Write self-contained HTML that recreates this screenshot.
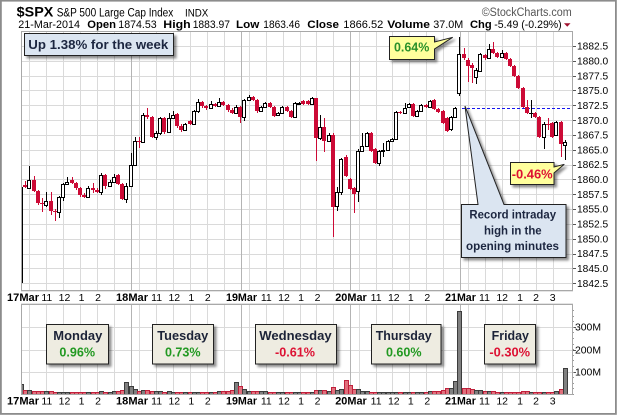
<!DOCTYPE html>
<html><head><meta charset="utf-8">
<style>
html,body{margin:0;padding:0;background:#fff;}
svg{display:block;}
text{font-family:"Liberation Sans",Arial,sans-serif;}
</style></head>
<body>
<svg id="c" width="620" height="415" viewBox="0 0 620 415" xmlns="http://www.w3.org/2000/svg">
<defs>
 <clipPath id="pc"><rect x="21" y="31" width="551.5" height="259.5"/></clipPath>
 <clipPath id="vc"><rect x="21" y="304" width="551.5" height="90.5"/></clipPath>
 <filter id="sh" x="-20%" y="-20%" width="150%" height="170%"><feDropShadow dx="2.5" dy="2.5" stdDeviation="1.4" flood-color="#000" flood-opacity="0.45"/></filter>
</defs>
<rect width="620" height="415" fill="#fff"/>
<rect x="0.9" y="0.7" width="615" height="413.2" fill="none" stroke="#8c8c8c" stroke-width="1.8"/>

<!-- header -->
<text x="16.7" y="16.5" font-size="14" font-weight="bold" textLength="36.6" lengthAdjust="spacingAndGlyphs">$SPX</text>
<text x="56.7" y="16.5" font-size="11.5" textLength="116.6" lengthAdjust="spacingAndGlyphs">S&amp;P 500 Large Cap Index</text>
<text x="185" y="16.5" font-size="11" textLength="23.3" lengthAdjust="spacingAndGlyphs">INDX</text>
<text x="481.7" y="16" font-size="11.5" fill="#555" textLength="90" lengthAdjust="spacingAndGlyphs">©StockCharts.com</text>

<g font-size="11">
<text x="18.3" y="28" textLength="61.7" lengthAdjust="spacingAndGlyphs">21-Mar-2014</text>
<text x="87.3" y="28" font-weight="bold" textLength="28.7" lengthAdjust="spacingAndGlyphs">Open</text>
<text x="118.3" y="28" textLength="38.4" lengthAdjust="spacingAndGlyphs">1874.53</text>
<text x="163.3" y="28" font-weight="bold" textLength="27.4" lengthAdjust="spacingAndGlyphs">High</text>
<text x="192.7" y="28" textLength="37.3" lengthAdjust="spacingAndGlyphs">1883.97</text>
<text x="236" y="28" font-weight="bold" textLength="23.3" lengthAdjust="spacingAndGlyphs">Low</text>
<text x="263.3" y="28" textLength="36.7" lengthAdjust="spacingAndGlyphs">1863.46</text>
<text x="307.3" y="28" font-weight="bold" textLength="31.7" lengthAdjust="spacingAndGlyphs">Close</text>
<text x="343.3" y="28" textLength="40" lengthAdjust="spacingAndGlyphs">1866.52</text>
<text x="387.3" y="28" font-weight="bold" textLength="42.7" lengthAdjust="spacingAndGlyphs">Volume</text>
<text x="433.3" y="28" textLength="30" lengthAdjust="spacingAndGlyphs">37.0M</text>
<text x="470" y="28" font-weight="bold" textLength="21.7" lengthAdjust="spacingAndGlyphs">Chg</text>
<text x="494.3" y="28" textLength="67.4" lengthAdjust="spacingAndGlyphs">-5.49 (-0.29%)</text>
</g>
<polygon points="564,23.3 570.5,23.3 567.25,26.8" fill="#a0102e"/>

<!-- panels background/grid -->
<rect x="21.5" y="31.5" width="551" height="259" fill="#fff"/>
<rect x="21.5" y="304.5" width="551" height="90" fill="#fff"/>
<g id="grid"></g>

<!-- blue dashed line -->
<line x1="462" y1="108.5" x2="572" y2="108.5" stroke="#1515ee" stroke-width="1" stroke-dasharray="3,2"/>

<g id="candles" clip-path="url(#pc)"></g>
<g id="vbars" clip-path="url(#vc)"></g>

<!-- panel borders -->
<rect x="21.5" y="31.5" width="551" height="259" fill="none" stroke="#a8a8a8" stroke-width="1"/>
<rect x="21.5" y="304.5" width="551" height="90" fill="none" stroke="#a8a8a8" stroke-width="1"/>
<line x1="21.5" y1="290.5" x2="572.5" y2="290.5" stroke="#c8c8c8" stroke-width="1" stroke-dasharray="1,1" transform="translate(0,1)"/>
<line x1="21.5" y1="304.5" x2="572.5" y2="304.5" stroke="#c8c8c8" stroke-width="1" stroke-dasharray="1,1" transform="translate(0,-1)"/>

<!-- price axis labels -->
<g font-size="10.2" fill="#000">
<text x="577" y="49.6">1882.5</text>
<text x="577" y="64.4">1880.0</text>
<text x="577" y="79.3">1877.5</text>
<text x="577" y="94.1">1875.0</text>
<text x="577" y="108.9">1872.5</text>
<text x="577" y="123.8">1870.0</text>
<text x="577" y="138.6">1867.5</text>
<text x="577" y="153.4">1865.0</text>
<text x="577" y="168.2">1862.5</text>
<text x="577" y="183.1">1860.0</text>
<text x="577" y="197.9">1857.5</text>
<text x="577" y="212.7">1855.0</text>
<text x="577" y="227.6">1852.5</text>
<text x="577" y="242.4">1850.0</text>
<text x="577" y="257.2">1847.5</text>
<text x="577" y="272.1">1845.0</text>
<text x="577" y="286.9">1842.5</text>
</g>
<g font-size="10.2">
<text x="575" y="330.4" textLength="26" lengthAdjust="spacingAndGlyphs">300M</text>
<text x="575" y="353.4" textLength="26" lengthAdjust="spacingAndGlyphs">200M</text>
<text x="575" y="375.4" textLength="26" lengthAdjust="spacingAndGlyphs">100M</text>
</g>

<!-- x labels top row -->
<g font-size="11" text-anchor="middle">
<g font-weight="bold">
<text x="23" y="300.8" textLength="32" lengthAdjust="spacingAndGlyphs">17Mar</text>
<text x="132" y="300.8" textLength="32" lengthAdjust="spacingAndGlyphs">18Mar</text>
<text x="241.5" y="300.8" textLength="31" lengthAdjust="spacingAndGlyphs">19Mar</text>
<text x="351" y="300.8" textLength="31.5" lengthAdjust="spacingAndGlyphs">20Mar</text>
<text x="460.5" y="300.8" textLength="30.7" lengthAdjust="spacingAndGlyphs">21Mar</text>
<text x="23" y="404.6" textLength="32" lengthAdjust="spacingAndGlyphs">17Mar</text>
<text x="132" y="404.6" textLength="32" lengthAdjust="spacingAndGlyphs">18Mar</text>
<text x="241.5" y="404.6" textLength="31" lengthAdjust="spacingAndGlyphs">19Mar</text>
<text x="351" y="404.6" textLength="31.5" lengthAdjust="spacingAndGlyphs">20Mar</text>
<text x="460.5" y="404.6" textLength="30.7" lengthAdjust="spacingAndGlyphs">21Mar</text>
</g>
<g font-size="10.5">
<text x="46.8" y="300.8">11</text><text x="64.5" y="300.8">12</text><text x="81.5" y="300.8">1</text><text x="98" y="300.8">2</text>
<text x="156.6" y="300.8">11</text><text x="174.3" y="300.8">12</text><text x="191.3" y="300.8">1</text><text x="207.8" y="300.8">2</text>
<text x="266.3" y="300.8">11</text><text x="284" y="300.8">12</text><text x="301" y="300.8">1</text><text x="317.5" y="300.8">2</text>
<text x="376.1" y="300.8">11</text><text x="393.8" y="300.8">12</text><text x="410.8" y="300.8">1</text><text x="427.3" y="300.8">2</text>
<text x="484.5" y="300.8">11</text><text x="502.2" y="300.8">12</text><text x="520" y="300.8">1</text><text x="536" y="300.8">2</text><text x="552.7" y="300.8">3</text>
<text x="46.8" y="404.6">11</text><text x="64.5" y="404.6">12</text><text x="81.5" y="404.6">1</text><text x="98" y="404.6">2</text>
<text x="156.6" y="404.6">11</text><text x="174.3" y="404.6">12</text><text x="191.3" y="404.6">1</text><text x="207.8" y="404.6">2</text>
<text x="266.3" y="404.6">11</text><text x="284" y="404.6">12</text><text x="301" y="404.6">1</text><text x="317.5" y="404.6">2</text>
<text x="376.1" y="404.6">11</text><text x="393.8" y="404.6">12</text><text x="410.8" y="404.6">1</text><text x="427.3" y="404.6">2</text>
<text x="484.5" y="404.6">11</text><text x="502.2" y="404.6">12</text><text x="520" y="404.6">1</text><text x="536" y="404.6">2</text><text x="552.7" y="404.6">3</text>
</g>
</g>

<!-- annotations -->
<g filter="url(#sh)">
 <rect x="24.5" y="33.5" width="149" height="22" fill="#dbe5f1" stroke="#222" stroke-width="1"/>
</g>
<text x="28.3" y="49" font-size="13" font-weight="bold" fill="#1c2640" textLength="140" lengthAdjust="spacingAndGlyphs">Up 1.38% for the week</text>

<g filter="url(#sh)">
 <path d="M389.5,36.5 H434.5 V42 L452.7,37.3 L434.5,49 V59.5 H389.5 Z" fill="#ffff9c" stroke="#222" stroke-width="1"/>
</g>
<text x="394" y="51.5" font-size="13" font-weight="bold" fill="#2a912a" textLength="35.3" lengthAdjust="spacingAndGlyphs">0.64%</text>

<g filter="url(#sh)">
 <path d="M510.5,162.5 H554 V167 L564.3,164.3 L554,173 V184.5 H510.5 Z" fill="#ffff9c" stroke="#222" stroke-width="1"/>
</g>
<text x="511.7" y="178.3" font-size="13" font-weight="bold" fill="#dd1133" textLength="41" lengthAdjust="spacingAndGlyphs">-0.46%</text>

<g filter="url(#sh)">
 <path d="M461.5,204.5 H478 L465,106 L504,204.5 H566 V257.5 H461.5 Z" fill="#dbe5f1" stroke="#222" stroke-width="1"/>
</g>
<g font-size="12" font-weight="bold" fill="#1c2640" text-anchor="middle">
<text x="512.7" y="218.5" textLength="86.7" lengthAdjust="spacingAndGlyphs">Record intraday</text>
<text x="512.8" y="234.5" textLength="57.7" lengthAdjust="spacingAndGlyphs">high in the</text>
<text x="512.5" y="250.2" textLength="93" lengthAdjust="spacingAndGlyphs">opening minutes</text>
</g>

<!-- day boxes -->
<g filter="url(#sh)" fill="#eeece1" stroke="#222" stroke-width="1">
 <rect x="46.5" y="324.5" width="62" height="39.5"/>
 <rect x="152.5" y="324.5" width="61" height="39.5"/>
 <rect x="255.5" y="324.5" width="81" height="39.5"/>
 <rect x="371.5" y="324.5" width="69.5" height="39.5"/>
 <rect x="484.5" y="324.5" width="51" height="39.5"/>
</g>
<g font-size="13" font-weight="bold" text-anchor="middle">
<text x="77.8" y="340" fill="#1c2338" textLength="49" lengthAdjust="spacingAndGlyphs">Monday</text>
<text x="77.2" y="356.3" fill="#229922" textLength="35.7" lengthAdjust="spacingAndGlyphs">0.96%</text>
<text x="182.8" y="340" fill="#1c2338" textLength="51" lengthAdjust="spacingAndGlyphs">Tuesday</text>
<text x="182.8" y="356.3" fill="#229922" textLength="35.7" lengthAdjust="spacingAndGlyphs">0.73%</text>
<text x="295.5" y="340" fill="#1c2338" textLength="72.4" lengthAdjust="spacingAndGlyphs">Wednesday</text>
<text x="295" y="356.3" fill="#dd1133" textLength="40" lengthAdjust="spacingAndGlyphs">-0.61%</text>
<text x="403.7" y="340" fill="#1c2338" textLength="56" lengthAdjust="spacingAndGlyphs">Thursday</text>
<text x="403.8" y="356.3" fill="#229922" textLength="35.7" lengthAdjust="spacingAndGlyphs">0.60%</text>
<text x="510.3" y="340" fill="#1c2338" textLength="37.3" lengthAdjust="spacingAndGlyphs">Friday</text>
<text x="509.7" y="356.3" fill="#dd1133" textLength="40.7" lengthAdjust="spacingAndGlyphs">-0.30%</text>
</g>

<script>
(function(){
const NS="http://www.w3.org/2000/svg";
function el(t,a,p){const e=document.createElementNS(NS,t);for(const k in a)e.setAttribute(k,a[k]);p.appendChild(e);return e;}
const grid=document.getElementById('grid');
const LG='#dadada', SEP='#b4b4b4';
// price horizontal grid
for(let k=0;k<=16;k++){const y=Math.round(46+k*14.83)+0.5;el('line',{x1:21,y1:y,x2:572,y2:y,stroke:LG},grid);
 el('line',{x1:572,y1:y,x2:576,y2:y,stroke:'#555'},grid);}
// volume horizontal grid
[372,349.5,327].forEach(v=>{const y=Math.round(v)+0.5;el('line',{x1:21,y1:y,x2:572,y2:y,stroke:LG},grid);el('line',{x1:572,y1:y,x2:576,y2:y,stroke:'#555'},grid);});
for(let v=394;v>305;v-=5.6){const y=Math.round(v)+0.5;el('line',{x1:572,y1:y,x2:574,y2:y,stroke:'#999'},grid);}
// vertical grid
for(let d=0;d<5;d++){const x0=21+d*109.75;
 for(const h of [10,11,12,13,14,15]){const x=Math.round(x0+(h-9.5)*16.885)+0.5;
  el('line',{x1:x,y1:31,x2:x,y2:290,stroke:LG},grid);el('line',{x1:x,y1:304,x2:x,y2:394,stroke:LG},grid);}
 if(d>0){const x=Math.round(x0)+0.5;el('line',{x1:x,y1:31,x2:x,y2:290,stroke:SEP},grid);el('line',{x1:x,y1:304,x2:x,y2:394,stroke:SEP},grid);}
}
const D=[
[282,187,182,282],[185,187,181,188],[188,180,166,189],[180,191,176,192],[191,203,190,205],[203,204,198,212],[205,201,192,207],[201,211,192,215],[211,212,209,221],[212,197,196,218],[197,184,183,201],[184,182,177,185],[180,183,177,184],[183,188,182,190],[188,195,187,197],[195,197,193,198],[197,188,186,198],[188,190,183,193],[190,192,188,193],[192,175,173,195],[175,186,174,189],[186,182,180,187],[182,177,174,183],[175,184,174,185],[184,199,183,200],[199,186,183,203],
[186,165,153,187],[165,141,137,166],[141,142,137,148],[142,115,113,143],[115,117,108,119],[117,137,116,138],[137,133,131,140],[133,118,117,135],[118,132,117,134],[132,118,113,133],[118,115,111,119],[114,126,113,128],[126,130,124,132],[130,124,123,131],[121,124,120,125],[124,111,110,125],[111,102,99,113],[102,106,101,108],[106,108,105,110],[108,104,101,109],[104,106,103,107],[106,102,98,107],[102,105,101,106],[105,110,104,112],[110,113,108,114],[113,107,105,114],
[107,117,106,123],[117,100,99,121],[100,97,95,101],[97,100,96,101],[100,111,99,113],[111,107,106,112],[107,103,102,108],[103,107,102,108],[107,116,106,117],[115,113,112,116],[113,107,106,114],[107,111,106,112],[111,117,110,118],[117,103,102,118],[104,103,102,105],[101,104,100,105],[101,104,100,105],[104,98,97,105],[98,138,98,161],[138,127,115,140],[127,141,118,152],[141,135,133,142],[135,207,133,237],[206,192,187,211],[192,159,158,195],[157,176,155,177],
[179,189,178,190],[188,194,187,213],[191,151,149,202],[151,146,133,152],[146,133,132,147],[133,151,132,152],[149,163,148,164],[163,151,150,166],[151,150,143,157],[150,141,140,151],[141,139,138,142],[139,112,111,140],[112,113,111,114],[113,108,103,114],[107,104,103,108],[104,116,103,117],[116,111,110,117],[111,105,104,112],[105,107,104,108],[107,101,100,108],[100,109,99,110],[109,112,108,113],[111,123,110,124],[118,131,117,132],[129,117,116,131],[117,108,107,118],
[93,54,37,96],[54,58,48,60],[60,66,58,82],[65,68,63,83],[77,70,68,84],[71,54,53,72],[55,58,54,60],[58,49,44,59],[49,53,42,54],[53,57,52,58],[57,53,50,58],[53,59,52,60],[59,66,58,67],[66,76,65,77],[76,88,75,89],[88,107,87,108],[107,113,100,114],[113,113,100,118],[113,117,112,118],[117,137,116,138],[137,124,122,149],[124,125,118,130],[123,137,122,138],[135,122,121,136],[122,144,121,157],[145,142,140,160]
];
const V=[10,4,4,3,3,3,3,3,2,2,2,2,2,2,2,2,2,2,2,3,2,2,3,3,4,12,
8,5,3,4,4,3,3,3,2,3,2,2,2,2,2,2,2,2,2,2,2,3,3,3,4,12,
8,5,3,3,3,3,3,2,2,2,2,2,2,2,2,2,2,2,4,4,4,3,7,4,5,14,
9,5,5,3,3,2,2,2,2,2,2,2,2,2,2,2,2,2,2,3,3,3,4,6,6,13,
83,6,6,5,4,4,3,3,3,2,2,2,2,2,2,3,3,2,2,2,2,2,2,3,5,26];
const RED='#cc0a36';
const cg=document.getElementById('candles'), vg=document.getElementById('vbars');
D.forEach((b,i)=>{
 const cx=21.5+i*4.215, f=Math.floor(cx);
 const o=b[0],c=b[1],h=b[2],l=b[3];
 const up=c<=o;
 const t=Math.min(o,c), bt=Math.max(o,c);
 if(up){
  el('line',{x1:f+0.5,y1:h,x2:f+0.5,y2:l,stroke:'#000','stroke-width':1},cg);
  if(bt-t<1) el('line',{x1:f-2,y1:t+0.5,x2:f+2,y2:t+0.5,stroke:'#000'},cg);
  else el('rect',{x:f-1.5,y:t+0.5,width:3,height:bt-t,fill:'#fff',stroke:'#000','stroke-width':1},cg);
 } else {
  el('line',{x1:f+0.5,y1:h,x2:f+0.5,y2:l,stroke:RED,'stroke-width':1},cg);
  el('rect',{x:f-2,y:t,width:4,height:Math.max(bt-t,1),fill:RED},cg);
 }
 const hv=V[i]; const top=394-hv;
 el('rect',{x:f-1.5,y:top+0.5,width:4,height:hv,fill:up?'#808080':'#e0707c',stroke:up?'#3c3c3c':'#c0203c','stroke-width':1},vg);
});
})();
</script>
</svg>
</body></html>
